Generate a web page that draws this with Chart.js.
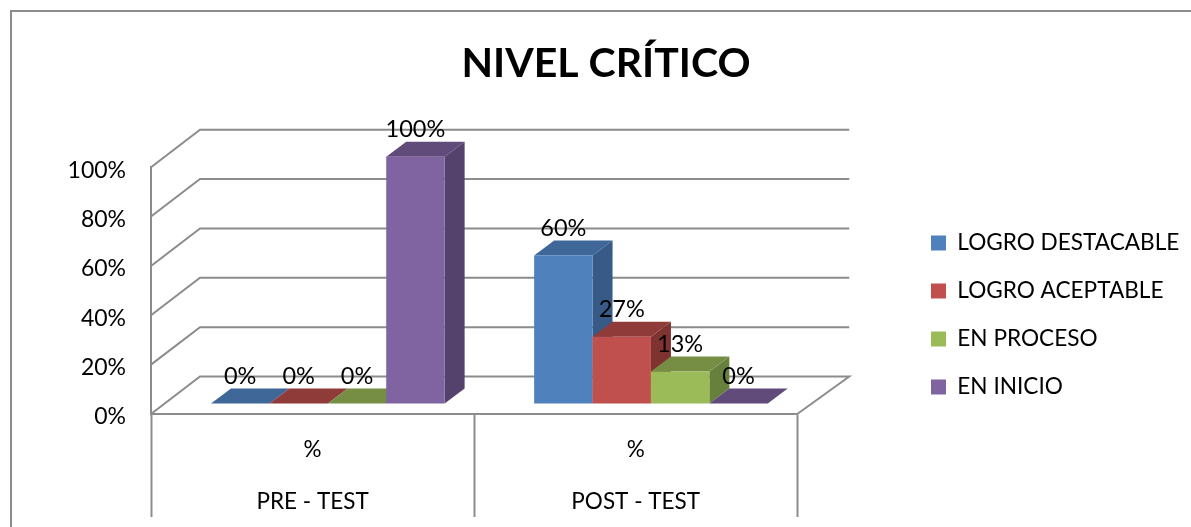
<!DOCTYPE html>
<html>
<head>
<meta charset="utf-8">
<title>NIVEL CRÍTICO</title>
<script src="https://cdn.jsdelivr.net/npm/chart.js@4"></script>
<style>
  html, body { margin: 0; padding: 0; background: #fff; overflow: hidden; }
  canvas { display: block; }
</style>
</head>
<body>
<canvas id="nivelChart" width="1191" height="527"></canvas>
<script>
// Values
const categories = ["PRE - TEST", "POST - TEST"];
const measure = "%";
const seriesNames = ["LOGRO DESTACABLE", "LOGRO ACEPTABLE", "EN PROCESO", "EN INICIO"];
const logroDestacable = [0, 60];
const logroAceptable = [0, 27];
const enProceso = [0, 13];
const enInicio = [100, 0];

// front, top, side colours for each series
const frontColors = ["#4f81bd", "#c0504d", "#9bbb59", "#8064a2"];
const topColors = ["#3f6797", "#8f3b39", "#758e43", "#604b7a"];
const sideColors = ["#375a86", "#7e3331", "#67803c", "#54426c"];

const FONT = "Lato, 'Open Sans', sans-serif";
const LINE = "#8c8c8c";

// fake 3D: wall depth, bar depth and where the bars sit on the floor
const WALL_DX_LEFT = 49, WALL_DX_RIGHT = 52, WALL_DY = 37.5;
const BAR_DX = 20, BAR_DY = 15;
const BAR_SHIFT_X = 15.25, BAR_SHIFT_Y = -10.5;

const fake3d = {
  id: "fake3d",
  beforeDraw(chart) {
    // outer frame of the chart object, it runs off the page right and bottom
    const ctx = chart.ctx;
    ctx.save();
    ctx.strokeStyle = LINE;
    ctx.lineWidth = 2;
    ctx.beginPath();
    ctx.moveTo(11, 527);
    ctx.lineTo(11, 11);
    ctx.lineTo(1191, 11);
    ctx.stroke();
    ctx.restore();
  },
  beforeDatasetsDraw(chart) {
    const ctx = chart.ctx;
    const { x: xScale, y: yScale } = chart.scales;
    const left = xScale.left, right = xScale.right;

    // back wall gridlines and floor edge
    ctx.save();
    ctx.strokeStyle = LINE;
    ctx.lineWidth = 2;
    yScale.ticks.forEach(tick => {
      const y = yScale.getPixelForValue(tick.value);
      ctx.beginPath();
      ctx.moveTo(left, y);
      ctx.lineTo(left + WALL_DX_LEFT, y - WALL_DY);
      ctx.lineTo(right + WALL_DX_RIGHT, y - WALL_DY);
      if (tick.value === 0) ctx.lineTo(right, y);
      ctx.stroke();
    });
    ctx.restore();

    // bars left to right so each front covers the side of the one before
    chart.data.datasets.forEach((ds, i) => {
      chart.getDatasetMeta(i).data.forEach(bar => {
        const { x, y, base, width } = bar.getProps(["x", "y", "base", "width"]);
        const l = x - width / 2, r = x + width / 2;
        ctx.save();
        ctx.translate(BAR_SHIFT_X, BAR_SHIFT_Y);
        ctx.fillStyle = sideColors[i];
        ctx.beginPath();
        ctx.moveTo(r, y);
        ctx.lineTo(r + BAR_DX, y - BAR_DY);
        ctx.lineTo(r + BAR_DX, base - BAR_DY);
        ctx.lineTo(r, base);
        ctx.closePath();
        ctx.fill();
        ctx.fillStyle = topColors[i];
        ctx.beginPath();
        ctx.moveTo(l, y);
        ctx.lineTo(l + BAR_DX, y - BAR_DY);
        ctx.lineTo(r + BAR_DX, y - BAR_DY);
        ctx.lineTo(r, y);
        ctx.closePath();
        ctx.fill();
        bar.draw(ctx);
        ctx.restore();
      });
    });
  },
  // bars are already drawn above, in our own order
  beforeDatasetDraw() {
    return false;
  },
  afterDatasetsDraw(chart) {
    const ctx = chart.ctx;
    ctx.save();
    ctx.fillStyle = "#000";
    ctx.font = "23.5px " + FONT;
    ctx.textAlign = "center";
    ctx.textBaseline = "middle";
    chart.data.datasets.forEach((ds, i) => {
      chart.getDatasetMeta(i).data.forEach((bar, j) => {
        const { x, y } = bar.getProps(["x", "y"]);
        ctx.fillText(ds.data[j] + "%", x + BAR_SHIFT_X, y + BAR_SHIFT_Y - 27);
      });
    });
    ctx.restore();
  },
  afterLayout(chart) {
    // put title and legend where the original has them
    const title = chart.titleBlock;
    const titleWidth = title.right - title.left;
    title.left = 606 - titleWidth / 2;
    title.right = 606 + titleWidth / 2;
    const legend = chart.legend;
    const labels = legend.options.labels;
    const h = legend.bottom - legend.top;
    legend.left = 931 - labels.padding;
    legend.right = 1191; // the legend clips to this box
    legend.top = 243 - labels.font.size / 2 - labels.padding;
    legend.bottom = legend.top + h;
  }
};

new Chart(document.getElementById("nivelChart"), {
  type: "bar",
  data: {
    labels: categories.map(c => [measure, c]),
    datasets: [logroDestacable, logroAceptable, enProceso, enInicio].map((values, i) => ({
      label: seriesNames[i],
      data: values,
      backgroundColor: frontColors[i],
      borderWidth: 0,
      categoryPercentage: 0.723,
      barPercentage: 1
    }))
  },
  options: {
    responsive: false,
    animation: false,
    layout: { padding: { right: 128 } },
    plugins: {
      title: {
        display: true,
        text: "NIVEL CRÍTICO",
        color: "#000",
        font: { family: FONT, size: 41, weight: "bold", lineHeight: 1.2 },
        padding: { top: 39, bottom: 79 }
      },
      legend: {
        position: "right",
        align: "start",
        labels: {
          color: "#000",
          font: { family: FONT, size: 22.6 },
          boxWidth: 15,
          boxHeight: 15,
          padding: 25.4
        }
      },
      tooltip: { enabled: false }
    },
    scales: {
      x: {
        afterFit(scale) { scale.height = 113; },
        grid: { drawOnChartArea: false, color: LINE, tickColor: LINE, tickWidth: 2, tickLength: 103 },
        border: { color: LINE, width: 2 },
        ticks: {
          color: "#000",
          font: { family: FONT, size: 22.5, lineHeight: "52px" },
          padding: -93,
          maxRotation: 0,
          autoSkip: false
        }
      },
      y: {
        min: 0,
        max: 100,
        afterFit(scale) { scale.width = 151; },
        grid: { display: false },
        border: { color: LINE, width: 2 },
        ticks: {
          stepSize: 20,
          color: "#000",
          // empty first line and short line height push the label down 3px
          font: { family: FONT, size: 23, lineHeight: "6px" },
          padding: 17,
          callback: v => ["", v + "%"]
        }
      }
    }
  },
  plugins: [fake3d]
});
</script>
</body>
</html>
